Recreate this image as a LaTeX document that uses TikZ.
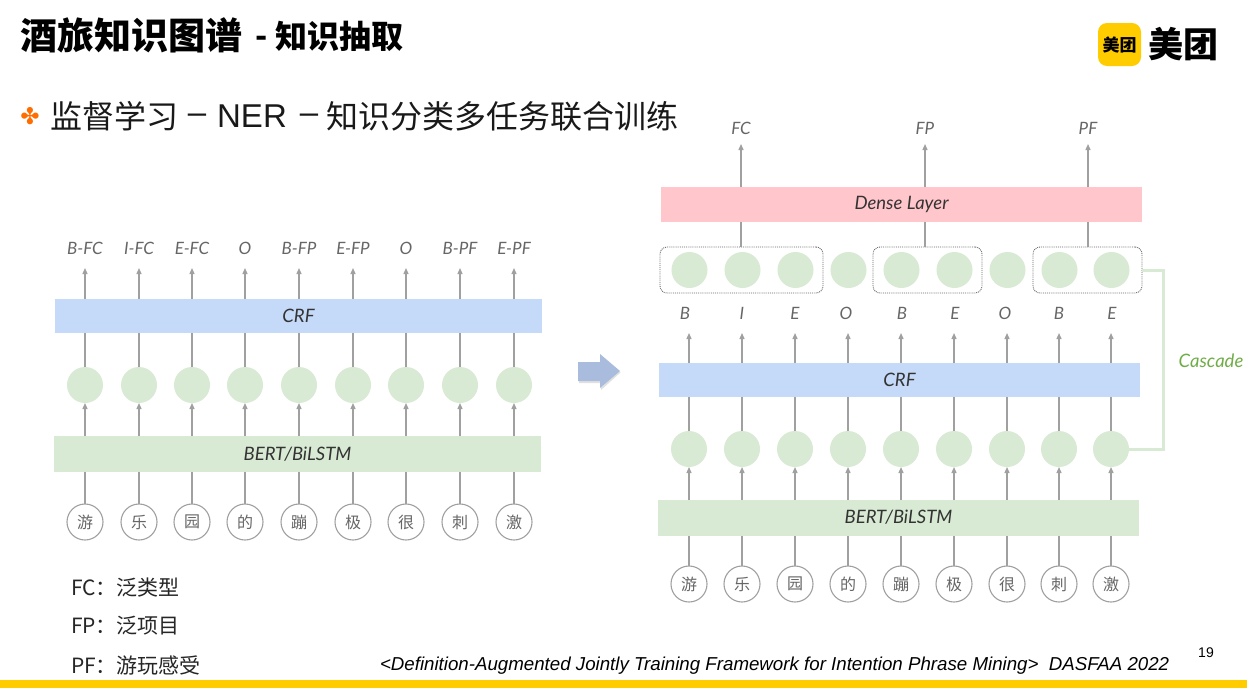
\documentclass[tikz,border=0pt]{standalone}
\usepackage{fontspec}
\setmainfont{Noto Sans CJK SC}
\newfontfamily\handfont{Lato}
\newfontfamily\citefont{Liberation Sans}
\newfontfamily\symfont{DejaVu Sans}
\usetikzlibrary{arrows.meta,positioning}
\definecolor{barblue}{HTML}{C5D9F8}
\definecolor{bargreen}{HTML}{D8EAD3}
\definecolor{barpink}{HTML}{FFC6CB}
\definecolor{linegrey}{HTML}{A0A0A0}
\definecolor{txtgrey}{HTML}{666666}
\definecolor{mtyellow}{HTML}{FFCC00}
\definecolor{casc}{HTML}{70AD47}
\definecolor{bigarrow}{HTML}{A9BCDD}
\newcommand{\fsz}[1]{\fontsize{#1}{#1}\selectfont}
\tikzset{
  x=1pt,y=-1pt,
  every node/.style={inner sep=0pt,outer sep=0pt},
  crfbar/.style={fill=barblue,minimum width=487pt,minimum height=34.5pt,font=\handfont\itshape\fsz{18.5}\color{black!80}},
  bertbar/.style={fill=bargreen,minimum width=487pt,minimum height=36pt,font=\handfont\itshape\fsz{18.5}\color{black!80}},
  densebar/.style={fill=barpink,minimum width=481pt,minimum height=35pt,font=\handfont\itshape\fsz{18.5}\color{black!80}},
  hidden/.style={circle,fill=bargreen,minimum size=36pt},
  token/.style={circle,draw=linegrey,line width=1.1pt,fill=white,minimum size=36pt,font=\fsz{16}\color{txtgrey}},
  tag/.style={minimum height=40pt,font=\handfont\itshape\fsz{17}\color{txtgrey}},
  headtag/.style={minimum height=32pt,font=\handfont\itshape\fsz{17}\color{txtgrey}},
  arr/.style={draw=linegrey,line width=1.3pt,-{Triangle[length=6pt,width=5pt]}},
  ln/.style={draw=linegrey,line width=1.3pt},
  group/.style={draw=txtgrey,densely dotted,line width=.9pt,rounded corners=7pt,minimum height=46pt},
  note/.style={anchor=west,font=\fsz{21}\color{black!85}},
  headline/.style={font=\fsz{32}\color{black!90}},
  latinhead/.style={font=\citefont\fsz{33}\color{black!90}},
}
\begin{document}
\begin{tikzpicture}
\useasboundingbox[fill=white] (0,0) rectangle (1247,688);
% header
\node[anchor=west,font=\bfseries\fsz{37}] (title) at (20,35.5) {酒旅知识图谱};
\node[anchor=west,font=\bfseries\fsz{32}] (dash) at (255,42) {-};
\node[anchor=west,font=\bfseries\fsz{32}] (sub) at (275,36) {知识抽取};
\node[font=\symfont\fsz{23},text=orange!85!red] (bul) at (30,116) {✤};
\node[anchor=west,headline] (sa) at (50,116) {监督学习};
\node[latinhead] (sb1) at (197,119) {–};
\node[latinhead] (ner) at (252,116) {NER};
\node[latinhead] (sb2) at (309,119) {–};
\node[anchor=west,headline] (sc) at (326,116) {知识分类多任务联合训练};
% logo
\node[fill=mtyellow,rounded corners=9pt,minimum size=43pt,font=\bfseries\fsz{17}] (logoa) at (1119.5,44.5) {美团};
\node[font=\bfseries\fsz{35}] (logob) at (1183.5,44) {美团};
% left diagram
\node[crfbar] (lcrf) at (298.5,316) {CRF};
\node[bertbar] (lbert) at (297.5,454) {BERT/BiLSTM};
\foreach \i/\x/\t/\c in {1/85/B-FC/游,2/139/I-FC/乐,3/192/E-FC/园,4/245/O/的,5/299/B-FP/蹦,6/353/E-FP/极,7/406/O/很,8/460/B-PF/刺,9/514/E-PF/激}{
  \node[tag] (lt\i) at (\x,248) {\t};
  \node[hidden] (lh\i) at (\x,385) {};
  \node[token] (lw\i) at (\x,522) {\c};
  \draw[arr] (lcrf.north -| lt\i) -- (lt\i.south);
  \draw[ln] (lh\i.north) -- (lh\i.north |- lcrf.south);
  \draw[arr] (lbert.north -| lh\i) -- (lh\i.south);
  \draw[ln] (lw\i.north) -- (lw\i.north |- lbert.south);
}
% big arrow
\fill[black!12] (579,364) -- (601,364) -- (601,356) -- (620.5,372.5) -- (601,390) -- (601,383) -- (579,383) -- cycle;
\fill[bigarrow] (578,362) -- (600,362) -- (600,354) -- (620,371) -- (600,388) -- (600,381) -- (578,381) -- cycle;
% right diagram
\node[densebar] (dense) at (901.5,204.5) {Dense Layer};
\node[crfbar,minimum width=481pt] (rcrf) at (899.5,380) {CRF};
\node[bertbar,minimum width=481pt] (rbert) at (898.5,517.5) {BERT/BiLSTM};
\node[group,minimum width=163pt] (ga) at (741.5,270) {};
\node[group,minimum width=109pt] (gb) at (927.5,270) {};
\node[group,minimum width=109pt] (gc) at (1087.5,270) {};
\foreach \i/\x/\t/\c/\bx in {1/689/B/游/685,2/742/I/乐/742,3/795/E/园/795,4/848/O/的/846,5/901/B/蹦/902,6/954/E/极/955,7/1007/O/很/1005,8/1059/B/刺/1059,9/1111/E/激/1112}{
  \node[hidden] (rp\i) at (\x+.5,270) {};
  \node[tag] (rt\i) at (\x,313) {};
  \node[font=\handfont\itshape\fsz{17}\color{txtgrey}] (rl\i) at (\bx,313) {\t};
  \node[hidden] (rh\i) at (\x,449) {};
  \node[token] (rw\i) at (\x,584) {\c};
  \draw[arr] (rcrf.north -| rt\i) -- (rt\i.south);
  \draw[ln] (rh\i.north) -- (rh\i.north |- rcrf.south);
  \draw[arr] (rbert.north -| rh\i) -- (rh\i.south);
  \draw[ln] (rw\i.north) -- (rw\i.north |- rbert.south);
}
\node[headtag] (hfc) at (741,128) {FC};
\node[headtag] (hfp) at (925,128) {FP};
\node[headtag] (hpf) at (1088,128) {PF};
\draw[arr] (dense.north -| hfc) -- (hfc.south);
\draw[arr] (dense.north -| hfp) -- (hfp.south);
\draw[arr] (dense.north -| hpf) -- (hpf.south);
\draw[ln] (ga.north -| hfc) -- (dense.south -| hfc);
\draw[ln] (gb.north -| hfp) -- (dense.south -| hfp);
\draw[ln] (gc.north -| hpf) -- (dense.south -| hpf);
% cascade
\coordinate (cc) at (1163,361);
\draw[draw=bargreen,line width=3pt] (rh9.east) -| (cc) |- (gc.east);
\node[font=\handfont\itshape\fsz{18.5},text=casc] (castxt) at (1211,361) {Cascade};
% notes
\node[note] (n1) at (71,588) {FC：泛类型};
\node[note] (n2) at (71,626) {FP：泛项目};
\node[note] (n3) at (71,665) {PF：游玩感受};
\node[anchor=west,font=\citefont\itshape\fsz{18.7}] (cite) at (380,666) {<Definition-Augmented Jointly Training Framework for Intention Phrase Mining>\ \ DASFAA 2022};
\node[font=\citefont\fsz{14}] (pg) at (1206,653) {19};
\fill[mtyellow] (0,680) rectangle (1247,688);
\end{tikzpicture}
\end{document}
